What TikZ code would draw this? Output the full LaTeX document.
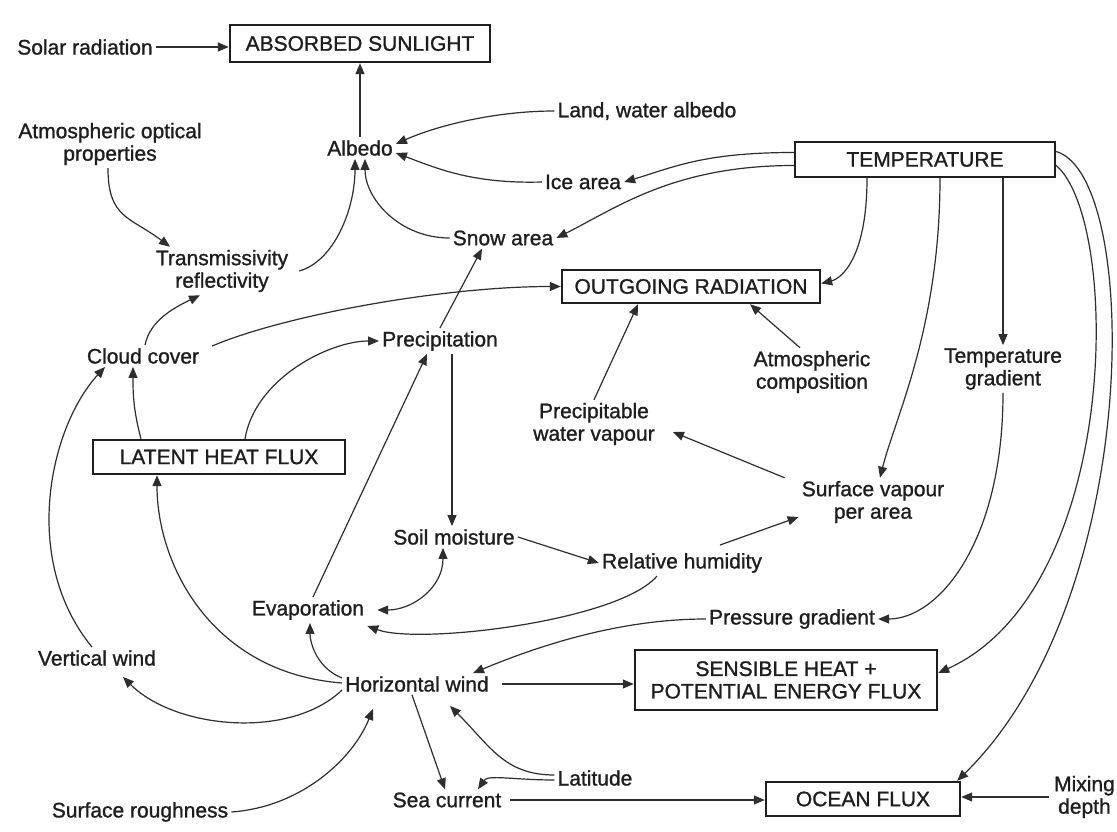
\documentclass[tikz,border=0pt]{standalone}
\usepackage{fontspec}
\setmainfont{Liberation Sans}[FakeBold=1.1]
\usetikzlibrary{arrows.meta}
\newcommand\lblfont{\fontsize{21}{22.5}\selectfont}
\definecolor{ink}{HTML}{1E1E1E}
\definecolor{wire}{HTML}{2E2E2E}
\tikzset{
  lbl/.style={font=\lblfont, text=ink, align=center, inner sep=3pt},
  boxnode/.style={draw=ink, line width=2.4pt, font=\lblfont, text=ink, align=center, inner sep=0pt},
  arr/.style={draw=wire, line width=1.2pt, -{Triangle[length=11pt,width=9pt]}},
  darr/.style={draw=wire, line width=1.2pt, {Triangle[length=11pt,width=9pt]}-{Triangle[length=11pt,width=9pt]}}
}
\begin{document}
\begin{tikzpicture}[x=1pt,y=-1pt]
\fill[white] (0,0) rectangle (1117,832);
\useasboundingbox (0,0) rectangle (1117,832);
% nodes
\node[lbl] (solar) at (85,47) {Solar radiation};
\node[boxnode, minimum width=260pt, minimum height=37pt] (absorbed) at (360,43.5) {ABSORBED SUNLIGHT};
\node[lbl] (albedo) at (360,148) {Albedo};
\node[lbl] (landw) at (647,111) {Land, water albedo};
\node[lbl] (atmopt) at (110,144) {Atmospheric optical\\properties};
\node[lbl] (ice) at (583,182) {Ice area};
\node[boxnode, minimum width=260pt, minimum height=35pt] (temp) at (925,159.5) {TEMPERATURE};
\node[lbl] (snow) at (503,238) {Snow area};
\node[lbl] (trans) at (222,271) {Transmissivity\\reflectivity};
\node[boxnode, minimum width=258pt, minimum height=33pt] (outgoing) at (691,286.5) {OUTGOING RADIATION};
\node[lbl] (cloud) at (143,356) {Cloud cover};
\node[lbl] (precip) at (440,341) {Precipitation};
\node[lbl] (atmcomp) at (812,372) {Atmospheric\\composition};
\node[lbl] (tgrad) at (1003,369) {Temperature\\gradient};
\node[lbl] (pwv) at (594,424) {Precipitable\\water vapour};
\node[boxnode, minimum width=252pt, minimum height=34pt] (lhf) at (219,457) {LATENT HEAT FLUX};
\node[lbl] (svpa) at (873,502) {Surface vapour\\per area};
\node[lbl] (soil) at (454,537) {Soil moisture};
\node[lbl] (rh) at (682,563) {Relative humidity};
\node[lbl] (evap) at (308,610) {Evaporation};
\node[lbl] (pg) at (792,619) {Pressure gradient};
\node[lbl] (vwind) at (97,658) {Vertical wind};
\node[lbl] (hwind) at (417,684) {Horizontal wind};
\node[boxnode, minimum width=302pt, minimum height=60pt] (sens) at (786,680) {SENSIBLE HEAT +\\POTENTIAL ENERGY FLUX};
\node[lbl] (lat) at (595,778) {Latitude};
\node[lbl] (rough) at (140,812) {Surface roughness};
\node[lbl] (sea) at (447,800) {Sea current};
\node[boxnode, minimum width=194pt, minimum height=34pt] (ocean) at (863,799) {OCEAN FLUX};
\node[lbl, anchor=east, inner sep=1pt] (mixing) at (1116,797) {Mixing\\depth};
% connectors
\draw[arr] (solar.east) -- (solar.east -| absorbed.west);
\draw[arr] (albedo.north) -- (albedo.north |- absorbed.south);
\draw[arr] (landw.west) .. controls +(-60,0) and +(40,-18) .. ([yshift=4pt]albedo.east);
\draw[arr] (ice.west) .. controls +(-70,2) and +(40,15) .. ([yshift=-5pt]albedo.east);
\draw[arr] ([xshift=-2pt]atmopt.south) .. controls +(0,50) and +(-40,-30) .. ([xshift=-52pt]trans.north);
\draw[arr] ([xshift=8pt]trans.east) .. controls +(35,-10) and +(0,50) .. ([xshift=-5pt]albedo.south);
\draw[arr] (snow.west) .. controls +(-50,0) and +(0,40) .. ([xshift=5pt]albedo.south);
\draw[arr] ([yshift=7pt]temp.west) .. controls +(-90,0) and +(50,-15) .. (ice.east);
\draw[arr] ([yshift=-6pt]temp.west) .. controls +(-120,0) and +(60,-30) .. (snow.east);
\draw[arr] ([xshift=-58pt]temp.south) .. controls +(0,80) and +(20,-5) .. ([yshift=3pt]outgoing.east);
\draw[arr] ([xshift=15pt]temp.south) .. controls +(0,150) and +(15,-60) .. ([xshift=7pt]svpa.north);
\draw[arr] (tgrad.north |- temp.south) -- (tgrad.north);
\draw[arr] (tgrad.south) .. controls +(0,150) and +(60,0) .. (pg.east);
\draw[arr] ([yshift=-6pt]temp.east) .. controls +(65,56) and +(183,-83) .. ([yshift=7pt]sens.east);
\draw[arr] ([yshift=8pt]temp.east) .. controls +(85,25) and +(186,-182) .. ([xshift=-4pt]ocean.north east);
\draw[arr] (pg.west) .. controls +(-90,0) and +(60,-25) .. ([xshift=56pt]hwind.north);
\draw[arr] ([xshift=-25pt]rh.south) .. controls +(-38,45) and +(52,19) .. ([yshift=-16pt]evap.east);
\draw[darr] ([xshift=-11pt]soil.south) .. controls +(0,40) and +(35,0) .. ([xshift=10pt]evap.east);
\draw[arr] (soil.east) -- (rh.west);
\draw[arr] ([shift={(38pt,5pt)}]rh.north) -- ([yshift=-15pt]svpa.west);
\draw[arr] ([xshift=-14pt]svpa.north west) -- ([shift={(15pt,-8pt)}]pwv.east);
\draw[arr] (pwv.north) -- ([xshift=-53pt]outgoing.south);
\draw[arr] ([xshift=-12pt]atmcomp.north) -- ([xshift=59pt]outgoing.south);
\draw[arr] ([shift={(10pt,10pt)}]cloud.east) .. controls +(70,-30) and +(-120,0) .. (outgoing.west);
\draw[arr] ([xshift=2pt]cloud.north) .. controls +(5,-25) and +(-25,12) .. ([xshift=-22pt]trans.south);
\draw[arr] (precip.north) -- ([xshift=-21pt]snow.south);
\coordinate (pdown) at ([xshift=12pt]precip.south);
\draw[arr] (pdown) -- (pdown |- soil.north);
\draw[arr] ([xshift=-78pt]lhf.north) .. controls +(-8,-30) and +(0,25) .. ([xshift=-10pt]cloud.south);
\draw[arr] ([xshift=26pt]lhf.north) .. controls +(10,-60) and +(-50,0) .. (precip.west);
\draw[arr] ([xshift=5pt]evap.north) -- ([xshift=-13pt]precip.south);
\draw[arr] ([yshift=6pt]hwind.west) .. controls +(-25,-10) and +(0,20) .. ([xshift=2pt]evap.south);
\draw[arr] ([yshift=1pt]hwind.west) .. controls +(-130,-10) and +(0,90) .. ([xshift=-62pt]lhf.south);
\draw[arr] ([yshift=-6pt]hwind.west) .. controls +(-52,50) and +(52,52) .. ([shift={(26pt,-8pt)}]vwind.south);
\draw[arr] ([xshift=-5pt]vwind.north) .. controls +(-72,-88) and +(-55,60) .. ([xshift=-38pt]cloud.south);
\draw[arr] ([xshift=10pt]hwind.east) -- (hwind.east -| sens.west);
\draw[arr] ([xshift=-5pt]hwind.south) -- ([xshift=-2pt]sea.north);
\draw[arr] (rough.east) .. controls +(70,-5) and +(-20,50) .. ([shift={(-44pt,-14pt)}]hwind.south);
\draw[arr] ([yshift=3pt]lat.west) .. controls +(-50,0) and +(40,40) .. ([shift={(33pt,-11pt)}]hwind.south);
\draw[arr] ([yshift=-2pt]lat.west) .. controls +(-40,0) and +(10,-15) .. ([xshift=31pt]sea.north);
\draw[arr] ([xshift=6pt]sea.east) -- (sea.east -| ocean.west);
\draw[arr] ([xshift=-4pt]mixing.west) -- (mixing.west -| ocean.east);
\end{tikzpicture}
\end{document}
